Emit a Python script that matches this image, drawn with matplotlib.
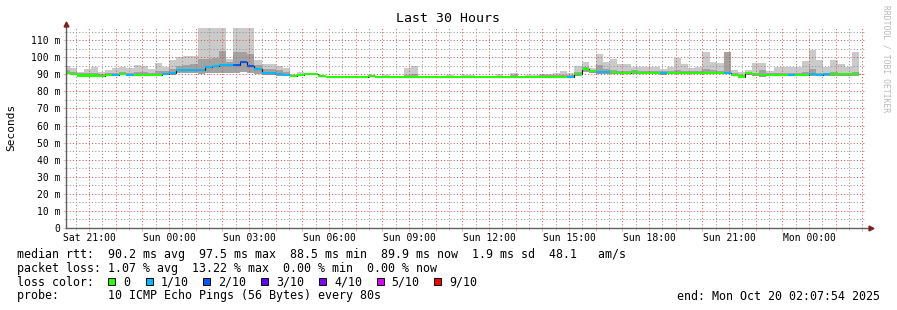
import numpy as np
import matplotlib.pyplot as plt
from matplotlib.patches import Rectangle

W, H = 897, 310
plt.rcParams['font.family'] = 'DejaVu Sans Mono'

# time axis in hours counted from Sat 00:00, 16 minute bins from Sat 20:00
bin_start = 20.0
bin_hours = 16 / 60
view_start = 20 + 7 / 60 + 54 / 3600
view_end = view_start + 30

# median rtt per bin (ms)
median = [91.0, 90.0, 89.3, 89.3, 89.3, 89.0, 89.6, 89.4, 90.2, 89.7,
          89.7, 89.6, 89.4, 89.5, 90.3, 90.7, 92.7, 92.7, 92.5, 92.3,
          94.0, 94.7, 95.5, 95.5, 95.6, 97.3, 95.0, 93.0, 90.9, 90.6,
          90.2, 89.7, 88.8, 89.5, 90.3, 90.2, 88.8, 88.6, 88.6, 88.6,
          88.6, 88.5, 88.5, 89.1, 88.5, 88.5, 88.5, 88.5, 88.5, 88.6,
          88.5, 88.5, 88.5, 88.5, 88.5, 88.5, 88.5, 88.5, 88.5, 88.5,
          88.5, 88.5, 88.5, 88.5, 88.5, 88.5, 88.5, 88.5, 88.5, 88.5,
          88.6, 88.6, 89.9, 93.0, 91.8, 91.1, 91.1, 91.1, 90.6, 90.6,
          91.1, 90.8, 90.6, 90.6, 90.6, 90.8, 90.8, 90.8, 90.8, 90.8,
          90.8, 90.8, 90.8, 91.0, 89.6, 88.7, 90.5, 89.9, 89.6, 89.6,
          89.7, 89.7, 89.6, 89.6, 89.7, 90.0, 89.7, 89.9, 90.0, 89.9,
          89.9, 89.9]

# lost pings per bin (out of 10)
loss = [0, 0, 0, 0, 0, 0, 0, 1, 0, 1,
        0, 0, 0, 0, 1, 1, 1, 1, 1, 1,
        1, 1, 1, 1, 2, 2, 2, 1, 1, 1,
        1, 1, 0, 0, 0, 0, 0, 0, 0, 0,
        0, 0, 0, 0, 0, 0, 0, 0, 0, 0,
        0, 0, 0, 0, 0, 0, 0, 0, 0, 0,
        0, 0, 0, 0, 0, 0, 0, 0, 0, 0,
        0, 1, 0, 0, 0, 1, 1, 0, 0, 0,
        0, 0, 0, 0, 1, 0, 0, 0, 0, 0,
        0, 0, 0, 1, 0, 0, 0, 0, 0, 0,
        0, 0, 1, 0, 0, 1, 1, 1, 0, 0,
        0, 0]

# smoke: slowest ping, top of the darker band, fastest ping
smoke_hi = [95.0, 93.4, 91.5, 93.0, 94.3, 91.4, 92.4, 93.7, 94.3, 93.6,
            95.5, 94.8, 93.0, 96.8, 94.3, 98.3, 100.0, 100.5, 100.8, 120,
            120, 120, 120, 99.0, 120, 120, 120, 98.3, 95.8, 96.3,
            94.7, 93.7, 90.2, 91.3, 91.0, 90.8, 89.0, 88.9, 88.9, 88.9,
            88.9, 88.9, 88.9, 89.8, 88.9, 89.7, 88.9, 88.9, 93.9, 94.7,
            88.9, 88.9, 88.9, 88.9, 89.8, 88.9, 89.7, 89.7, 88.9, 88.9,
            88.9, 90.3, 88.9, 90.9, 88.9, 89.8, 89.8, 90.4, 90.4, 90.6,
            91.8, 91.0, 94.8, 97.3, 93.8, 101.8, 97.3, 99.0, 96.1, 96.1,
            94.5, 94.2, 94.0, 94.0, 93.3, 94.5, 99.8, 96.0, 93.5, 94.5,
            102.9, 97.3, 96.4, 102.9, 92.5, 91.6, 92.5, 96.8, 96.8, 92.0,
            94.4, 94.0, 94.5, 94.5, 97.6, 104.3, 98.3, 94.4, 98.3, 96.2,
            94.0, 102.9]

smoke_mid = [92.5, 91.5, 90.5, 91.0, 91.0, 90.3, 90.8, 91.0, 91.5, 91.0,
             91.5, 91.5, 91.0, 92.0, 92.0, 93.0, 95.0, 95.5, 96.0, 99.0,
             99.0, 99.5, 103.5, 97.0, 103.0, 103.0, 102.0, 95.5, 93.0, 93.0,
             92.5, 91.5, 89.5, 90.3, 90.8, 90.6, 88.9, 88.7, 88.7, 88.7,
             88.7, 88.7, 88.7, 89.5, 88.7, 88.8, 88.7, 88.7, 89.5, 90.4,
             88.7, 88.7, 88.7, 88.7, 89.0, 88.7, 89.0, 89.0, 88.7, 88.7,
             88.7, 89.0, 88.7, 89.3, 88.7, 89.0, 89.0, 89.3, 89.3, 89.5,
             89.8, 89.6, 91.5, 94.0, 92.8, 95.3, 93.0, 92.5, 92.0, 92.0,
             92.3, 92.0, 91.8, 91.8, 91.8, 92.0, 92.5, 92.0, 91.8, 92.0,
             93.0, 92.3, 92.0, 102.9, 90.5, 89.5, 91.5, 91.0, 92.8, 90.8,
             91.0, 91.0, 91.0, 91.0, 91.5, 93.3, 91.0, 91.0, 91.5, 91.0,
             91.0, 91.5]

smoke_lo = [90.3, 89.3, 88.8, 88.7, 88.8, 88.5, 89.0, 88.8, 89.5, 89.0,
            89.0, 89.0, 88.8, 88.9, 89.5, 89.8, 90.5, 90.8, 90.5, 90.0,
            90.5, 91.0, 91.0, 91.0, 91.0, 91.5, 91.0, 90.0, 89.5, 89.5,
            89.0, 88.9, 88.3, 88.8, 89.5, 89.5, 88.3, 88.2, 88.2, 88.2,
            88.2, 88.2, 88.2, 88.5, 88.2, 88.2, 88.2, 88.2, 88.2, 88.2,
            88.2, 88.2, 88.2, 88.2, 88.2, 88.2, 88.2, 88.2, 88.2, 88.2,
            88.2, 88.2, 88.2, 88.2, 88.2, 88.2, 88.2, 88.2, 88.2, 88.2,
            88.2, 88.2, 89.0, 91.5, 90.5, 90.0, 90.0, 90.3, 90.0, 90.0,
            90.3, 90.0, 90.0, 90.0, 89.8, 90.0, 90.0, 90.0, 90.0, 90.0,
            90.0, 90.0, 90.0, 90.0, 88.8, 88.2, 89.5, 89.0, 88.7, 88.8,
            88.8, 88.8, 88.8, 88.8, 88.8, 89.0, 88.8, 88.9, 89.0, 89.0,
            89.0, 89.0]

tick_hours = [21, 24, 27, 30, 33, 36, 39, 42, 45, 48]
tick_labels = ['Sat 21:00', 'Sun 00:00', 'Sun 03:00', 'Sun 06:00', 'Sun 09:00',
               'Sun 12:00', 'Sun 15:00', 'Sun 18:00', 'Sun 21:00', 'Mon 00:00']
y_ticks = [0, 10, 20, 30, 40, 50, 60, 70, 80, 90, 100, 110]

loss_labels = ['0', '1/10', '2/10', '3/10', '4/10', '5/10', '9/10']
loss_colors = ['#26ff00', '#00b8ff', '#0059ff', '#5e00ff', '#7e00ff', '#dd00ff', '#ff0000']

median = np.array(median)
edges = bin_start + bin_hours * np.arange(len(median) + 1)

fig = plt.figure(figsize=(W / 100, H / 100), dpi=100)
ax = fig.add_axes([66 / W, (H - 228) / H, 800 / W, 200 / H])

ax.stairs(smoke_hi, edges, baseline=smoke_lo, fill=True, color='#cacaca', lw=0, zorder=1)
ax.stairs(smoke_mid, edges, baseline=smoke_lo, fill=True, color='#a2a2a2', lw=0, zorder=1.1)
ax.stairs(median, edges, baseline=None, color='#202020', lw=0.8, zorder=3)
sw = 0.6
ax.bar(edges[:-1], 2 * sw, width=bin_hours, bottom=median - sw, align='edge',
       color=[loss_colors[l] for l in loss], linewidth=0, zorder=3.1)

ax.set_xlim(view_start, view_end)
ax.set_ylim(0, 117.1)

hours = np.arange(21, 51)
ax.set_xticks(hours)
ax.set_xticklabels([tick_labels[tick_hours.index(h)] if h in tick_hours else '' for h in hours])
ax.set_xticks(hours - 0.5, minor=True)
ax.set_yticks(y_ticks)
ax.set_yticklabels(['0' if v == 0 else '%d m' % v for v in y_ticks])
ax.set_yticks(np.array(y_ticks) + 5, minor=True)

mgrid = (0.87, 0.31, 0.31, 0.42)
grid = (0.56, 0.56, 0.56, 0.5)
ax.set_axisbelow(False)
ax.grid(which='major', color=mgrid, ls=(0, (1, 2.2)), lw=0.72)
ax.grid(which='minor', color=grid, ls=(0, (1, 2.2)), lw=0.72)
ax.tick_params(which='major', length=2, width=0.7, color=mgrid, labelsize=7, pad=2)
ax.tick_params(which='minor', length=1.5, width=0.7, color=grid)
ax.tick_params(axis='x', pad=1.5)

for s in ax.spines.values():
    s.set_visible(False)
ax.plot([0, 0], [0, 1.02], color='#606060', lw=1, transform=ax.transAxes, clip_on=False, zorder=4)
ax.plot([0, 1.006], [0, 0], color='#606060', lw=1, transform=ax.transAxes, clip_on=False, zorder=4)
ax.plot(0, 1.02, marker='^', ms=3.5, color='#801f1f', transform=ax.transAxes, clip_on=False, zorder=5)
ax.plot(1.006, 0, marker='>', ms=3.5, color='#801f1f', transform=ax.transAxes, clip_on=False, zorder=5)


def px(x, y):
    return x / W, 1 - y / H


fig.text(*px(448, 19), 'Last 30 Hours', fontsize=9.5, ha='center', va='center')
fig.text(*px(11, 127), 'Seconds', fontsize=8, rotation=90, ha='center', va='center')
fig.text(*px(886, 59), 'RRDTOOL / TOBI OETIKER', fontsize=5.8, rotation=270,
         ha='center', va='center', color='#b8b8b8')

fs = 8.4
fig.text(*px(16.5, 254.3), 'median rtt:  90.2 ms avg  97.5 ms max  88.5 ms min  89.9 ms now  1.9 ms sd  48.1   am/s',
         fontsize=fs, va='center')
fig.text(*px(16.5, 268.3), 'packet loss: 1.07 % avg  13.22 % max  0.00 % min  0.00 % now',
         fontsize=fs, va='center')
fig.text(*px(16.5, 282.3), 'loss color:', fontsize=fs, va='center')
fig.text(*px(16.5, 296), 'probe:       10 ICMP Echo Pings (56 Bytes) every 80s', fontsize=fs, va='center')
fig.text(*px(880, 296), 'end: Mon Oct 20 02:07:54 2025', fontsize=fs, va='center', ha='right')

box_x = [108.3, 145.7, 203.3, 261, 319, 376.7, 434.3]
for bx, lab, col in zip(box_x, loss_labels, loss_colors):
    x0, y0 = px(bx, 285.3)
    fig.add_artist(Rectangle((x0, y0), 7 / W, 7 / H, transform=fig.transFigure,
                             facecolor=col, edgecolor='black', lw=0.7))
    fig.text(*px(bx + 15, 282.3), lab, fontsize=fs, va='center')

fig.savefig('out.png', dpi=100)
